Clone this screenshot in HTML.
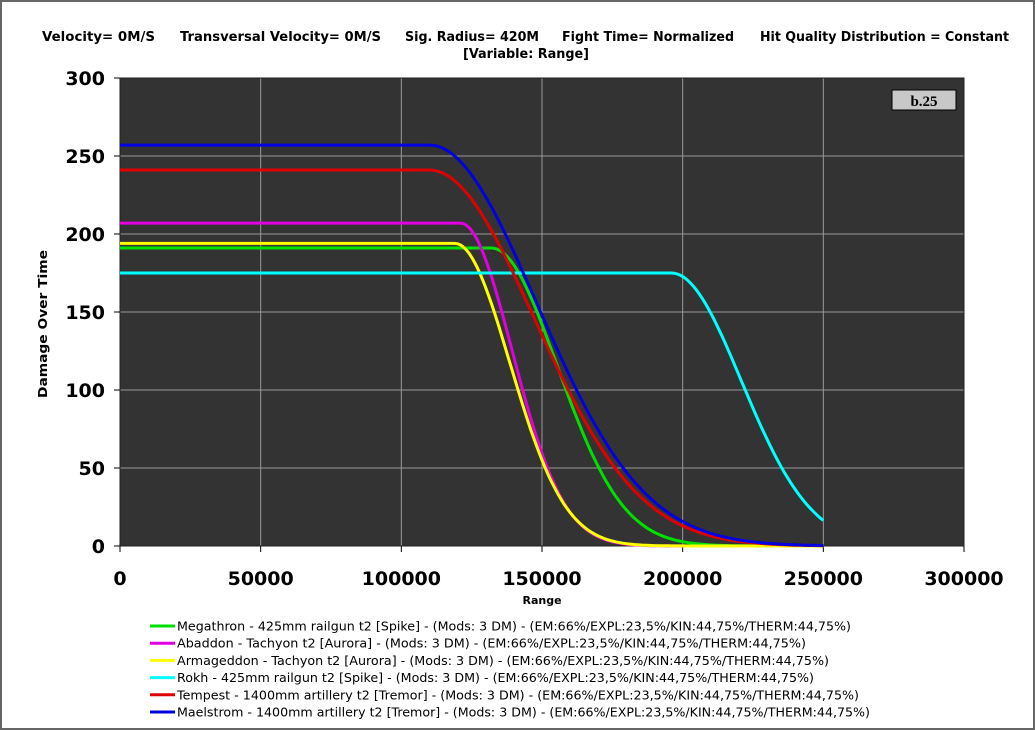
<!DOCTYPE html>
<html><head><meta charset="utf-8"><style>
html,body{margin:0;padding:0;background:#fff}
svg{display:block}
</style></head><body>
<svg id="s" width="1035" height="730" xmlns="http://www.w3.org/2000/svg" font-family="'DejaVu Sans','Liberation Sans',sans-serif">
<rect x="1" y="1" width="1033" height="728" fill="#fff" stroke="#666" stroke-width="2"/>
<g font-weight="bold" font-size="13" fill="#000">
<text x="42" y="41" textLength="113" lengthAdjust="spacingAndGlyphs">Velocity= 0M/S</text>
<text x="180" y="41" textLength="201" lengthAdjust="spacingAndGlyphs">Transversal Velocity= 0M/S</text>
<text x="405" y="41" textLength="134" lengthAdjust="spacingAndGlyphs">Sig. Radius= 420M</text>
<text x="562" y="41" textLength="172" lengthAdjust="spacingAndGlyphs">Fight Time= Normalized</text>
<text x="760" y="41" textLength="249" lengthAdjust="spacingAndGlyphs">Hit Quality Distribution = Constant</text>
<text x="463" y="58" textLength="126" lengthAdjust="spacingAndGlyphs">[Variable: Range]</text>
</g>
<rect x="120" y="78" width="844" height="468" fill="#333333"/>
<g id="grid" stroke="#9a9a9a" stroke-width="1"></g>
<rect x="120" y="78" width="844" height="468" fill="none" stroke="#222" stroke-width="1"/>
<g id="ticks" stroke="#000" stroke-width="1"></g>
<g id="labels" font-weight="bold" font-size="19" fill="#000"></g>
<text x="47" y="324" font-weight="bold" font-size="12" text-anchor="middle" transform="rotate(-90 47 324)" textLength="148" lengthAdjust="spacingAndGlyphs">Damage Over Time</text>
<text x="542" y="604" font-weight="bold" font-size="11" text-anchor="middle">Range</text>
<rect x="892" y="90" width="64" height="20" fill="#c8c8c8" stroke="#000" stroke-width="1"/>
<text x="924" y="106" font-weight="bold" font-size="15" text-anchor="middle" font-family="'Liberation Serif',serif">b.25</text>
<g id="curves" fill="none" stroke-width="3" stroke-linejoin="round"></g>
<g id="legend" font-size="12.5" fill="#000"></g>
</svg>
<script>
var NS="http://www.w3.org/2000/svg";
function el(p,t,a,txt){var e=document.createElementNS(NS,t);for(var k in a)e.setAttribute(k,a[k]);if(txt!=null)e.textContent=txt;document.getElementById(p).appendChild(e);}
function X(r){return 120+r*844/300000;}
function Y(v){return 546-v*468/300;}
for(var i=1;i<6;i++){el('grid','line',{x1:X(i*50000),x2:X(i*50000),y1:78,y2:546});el('grid','line',{x1:120,x2:964,y1:Y(i*50),y2:Y(i*50)});}
for(var i=0;i<=6;i++){el('ticks','line',{x1:114,x2:120,y1:Y(i*50),y2:Y(i*50)});el('ticks','line',{x1:X(i*50000),x2:X(i*50000),y1:546,y2:552});
el('labels','text',{x:105,y:Y(i*50)+7,'text-anchor':'end'},String(i*50));
el('labels','text',{x:X(i*50000),y:585,'text-anchor':'middle'},String(i*50000));}
var S=[["#00e000",191,132000,27500],["#e000e0",207,121000,21600],["#ffff00",194,119000,23000],["#00ffff",175,196000,29200],["#e00000",241,110000,43800],["#0000e0",257,110000,44800]];
S.forEach(function(s){var d="";for(var r=0;r<=250000;r+=1000){var v=s[1];if(r>s[2]){var k=(r-s[2])/s[3];v=s[1]*Math.pow(0.5,k*k);}d+=(r?"L":"M")+X(r).toFixed(1)+","+Y(v).toFixed(1);}el('curves','path',{d:d,stroke:s[0]});});
var L=["Megathron - 425mm railgun t2 [Spike] - (Mods: 3 DM) - (EM:66%/EXPL:23,5%/KIN:44,75%/THERM:44,75%)",
"Abaddon - Tachyon t2 [Aurora] - (Mods: 3 DM) - (EM:66%/EXPL:23,5%/KIN:44,75%/THERM:44,75%)",
"Armageddon - Tachyon t2 [Aurora] - (Mods: 3 DM) - (EM:66%/EXPL:23,5%/KIN:44,75%/THERM:44,75%)",
"Rokh - 425mm railgun t2 [Spike] - (Mods: 3 DM) - (EM:66%/EXPL:23,5%/KIN:44,75%/THERM:44,75%)",
"Tempest - 1400mm artillery t2 [Tremor] - (Mods: 3 DM) - (EM:66%/EXPL:23,5%/KIN:44,75%/THERM:44,75%)",
"Maelstrom - 1400mm artillery t2 [Tremor] - (Mods: 3 DM) - (EM:66%/EXPL:23,5%/KIN:44,75%/THERM:44,75%)"];
var W=[674,629,652,637,682,693];
L.forEach(function(t,i){var y=626+i*17.2;el('legend','line',{x1:150,x2:175,y1:y,y2:y,stroke:S[i][0],'stroke-width':3});
el('legend','text',{x:177,y:y+4.5,textLength:W[i],lengthAdjust:'spacingAndGlyphs'},t);});
</script>
</body></html>
